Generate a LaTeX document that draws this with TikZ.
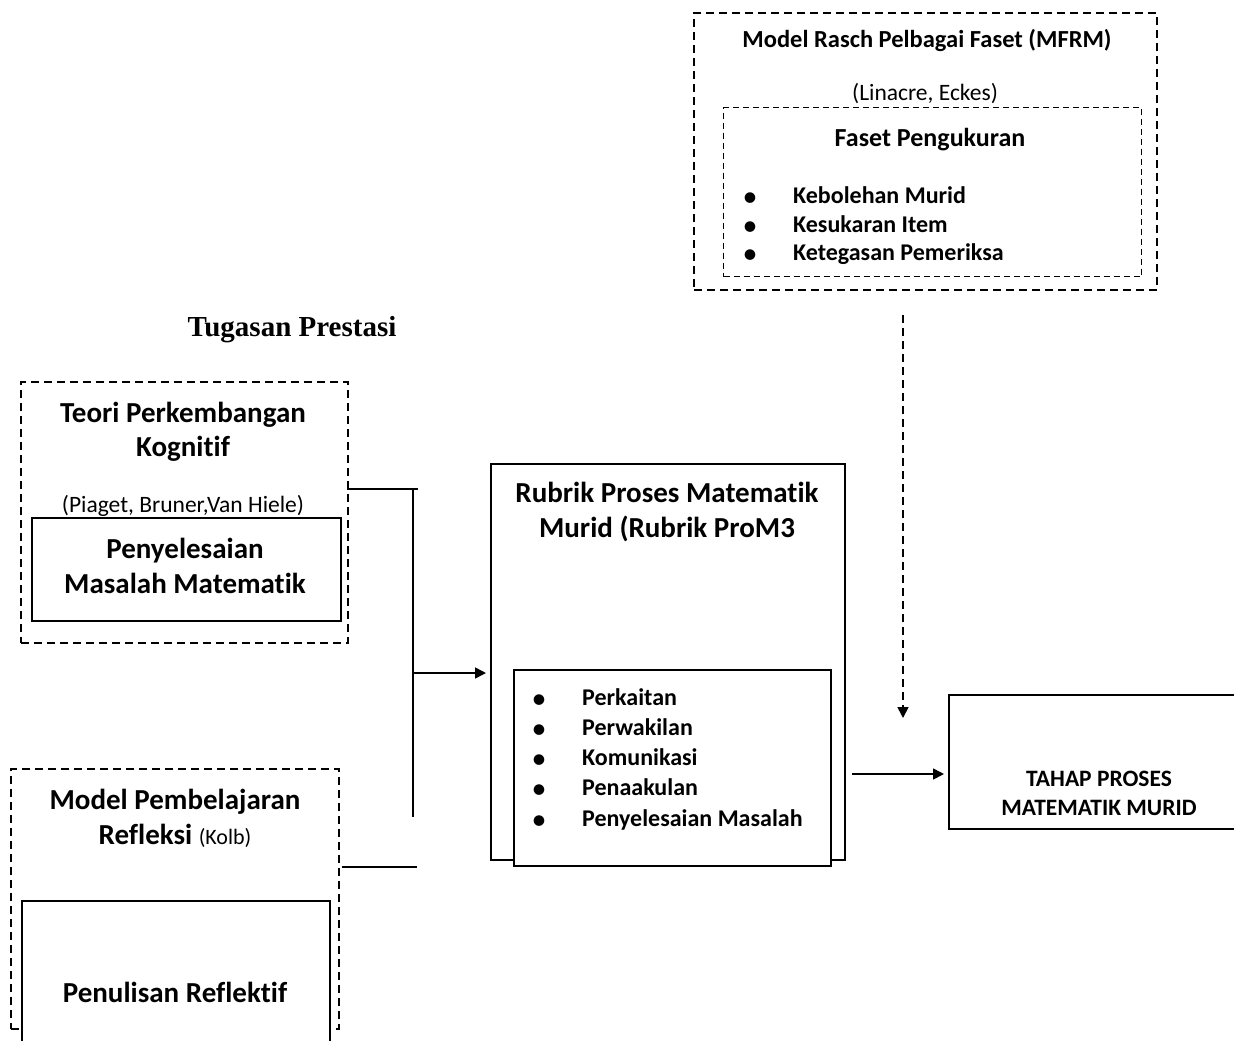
\documentclass[tikz,border=0pt]{standalone}
\usepackage{fontspec}
\setmainfont{Carlito}[Ligatures=NoCommon]
\newfontfamily\timesf{Liberation Serif}
\usetikzlibrary{arrows.meta}
\begin{document}
\begin{tikzpicture}[x=1pt,y=-1pt,
  dbox/.style={draw, dash pattern=on 8pt off 5pt, line width=2.2pt, inner sep=0pt, anchor=north west},
  dthin/.style={draw, dash pattern=on 6pt off 4pt, line width=1.4pt, inner sep=0pt, anchor=north west},
  sbox/.style={draw, line width=1.6pt, fill=white, inner sep=0pt, anchor=north west},
  conn/.style={line width=1.6pt},
  tip/.style={-{Triangle[length=11pt,width=11pt]}},
  big/.style={font=\fontsize{29}{35}\selectfont\bfseries, anchor=base, inner sep=0pt},
  med/.style={font=\fontsize{24.5}{29}\selectfont\bfseries, anchor=base, inner sep=0pt},
  lst/.style={font=\fontsize{24}{29}\selectfont\bfseries, anchor=base west, inner sep=0pt},
  cite/.style={font=\fontsize{23.5}{28}\selectfont, anchor=base, inner sep=0pt},
  bul/.style={font=\fontsize{30}{30}\selectfont, anchor=base, inner sep=0pt}
]
\useasboundingbox (0,0) rectangle (1234,1041);
\clip (0,0) rectangle (1234,1041);

% ---------- top right: MFRM ----------
\node[dbox, minimum width=463pt, minimum height=277pt] (mfrm) at (693,12) {};
\node[dthin, minimum width=418pt, minimum height=169pt] (faset) at (723,107) {};
\node[med] (mfrmT) at (927,48) {Model Rasch Pelbagai Faset (MFRM)};
\node[cite] (mfrmC) at (925,100) {(Linacre, Eckes)};
\node[font=\fontsize{26}{31}\selectfont\bfseries, anchor=base, inner sep=0pt] (fasetT) at (930,146) {Faset Pengukuran};
\node[bul] (b1) at (750,206) {•};
\node[bul] (b2) at (750,235) {•};
\node[bul] (b3) at (750,263) {•};
\node[lst] (f1) at (793,203) {Kebolehan Murid};
\node[lst] (f2) at (793,232) {Kesukaran Item};
\node[lst] (f3) at (793,260) {Ketegasan Pemeriksa};

% ---------- title ----------
\node[font=\fontsize{29}{35}\selectfont\timesf\bfseries, anchor=base, inner sep=0pt] (tug) at (292,336) {Tugasan Prestasi};

% ---------- left top ----------
\node[dbox, minimum width=327pt, minimum height=261pt] (teori) at (20,381) {};
\node[big] (teoriT1) at (183,422) {Teori Perkembangan};
\node[big] (teoriT2) at (183,456) {Kognitif};
\node[cite] (teoriC) at (183,512) {(Piaget, Bruner,Van Hiele)};
\node[sbox, minimum width=309pt, minimum height=103pt] (pms) at (31,517) {};
\node[big] (pmsT1) at (185,558) {Penyelesaian};
\node[big] (pmsT2) at (185,593) {Masalah Matematik};

% ---------- left bottom ----------
\node[dbox, minimum width=328pt, minimum height=260pt] (kolb) at (10,768) {};
\node[big] (kolbT1) at (175,809) {Model Pembelajaran};
\node (kolbT2) [anchor=base, inner sep=0pt] at (175,844) {\fontsize{29}{35}\selectfont\bfseries Refleksi \fontsize{22}{28}\selectfont\mdseries (Kolb)};
\node[sbox, minimum width=308pt, minimum height=170pt] (penul) at (21,900) {};
\node[big] (penulT) at (175,1002) {Penulisan Reflektif};

% ---------- middle rubric ----------
\node[draw, line width=1.6pt, inner sep=0pt, anchor=north west, minimum width=354pt, minimum height=396pt] (rubrik) at (490,463) {};
\node[big] (rubT1) at (667,502) {Rubrik Proses Matematik};
\node[big] (rubT2) at (667,537) {Murid (Rubrik ProM3};
\node[sbox, minimum width=317pt, minimum height=196pt] (rlist) at (513,669) {};
\node[bul] (c1) at (539,708) {•};
\node[bul] (c2) at (539,738) {•};
\node[bul] (c3) at (539,768) {•};
\node[bul] (c4) at (539,798) {•};
\node[bul] (c5) at (539,829) {•};
\node[lst] (r1) at (582,705) {Perkaitan};
\node[lst] (r2) at (582,735) {Perwakilan};
\node[lst] (r3) at (582,765) {Komunikasi};
\node[lst] (r4) at (582,795) {Penaakulan};
\node[lst] (r5) at (582,826) {Penyelesaian Masalah};

% ---------- right result ----------
\node[draw, line width=1.6pt, inner sep=0pt, anchor=north west, minimum width=320pt, minimum height=134pt] (tahap) at (948,694) {};
\node[font=\fontsize{23.5}{28}\selectfont\bfseries, anchor=base, inner sep=0pt] (tahapT1) at (1099,786) {TAHAP PROSES};
\node[font=\fontsize{23.5}{28}\selectfont\bfseries, anchor=base, inner sep=0pt] (tahapT2) at (1099,815) {MATEMATIK MURID};

% ---------- connectors ----------
\coordinate (j1a) at (347,489);
\coordinate (j1b) at (418,489);
\coordinate (vtop) at (413,489);
\coordinate (vbot) at (413,817);
\coordinate (amid) at (413,673);
\coordinate (ain) at (486,673);
\coordinate (j2a) at (342,867);
\coordinate (j2b) at (417,867);
\draw[conn] (j1a) -- (j1b);
\draw[conn] (vtop) -- (vbot);
\draw[conn] (j2a) -- (j2b);
\draw[conn, tip] (amid) -- (ain);

\coordinate (ro) at (852,774);
\coordinate (ri) at (944,774);
\draw[conn, tip] (ro) -- (ri);

\coordinate (dtop) at (903,315);
\coordinate (dbot) at (903,718);
\draw[conn, dash pattern=on 8pt off 5pt, tip] (dtop) -- (dbot);
\end{tikzpicture}
\end{document}
